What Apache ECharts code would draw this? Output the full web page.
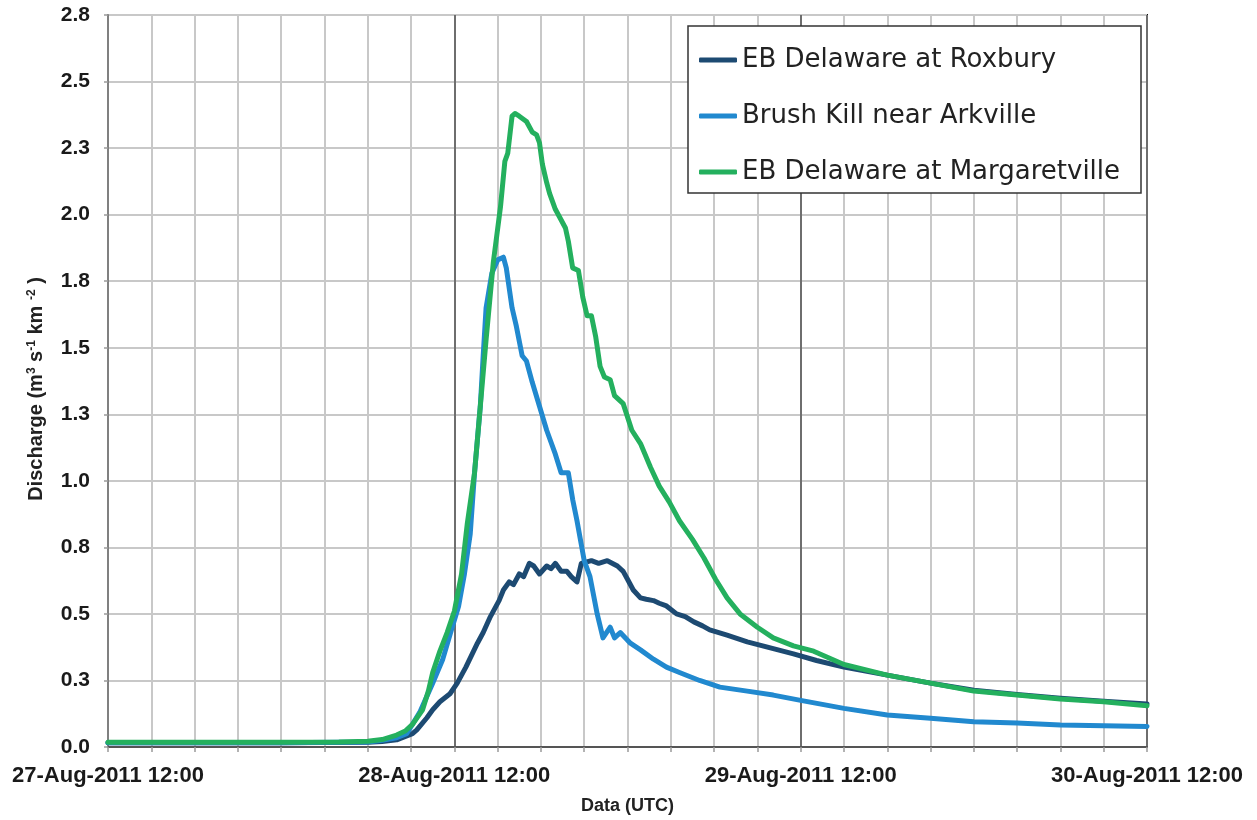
<!DOCTYPE html>
<html>
<head>
<meta charset="utf-8">
<title>Discharge, East Branch Delaware, 27–30 Aug 2011</title>
<script src="https://cdn.jsdelivr.net/npm/echarts@6/dist/echarts.min.js"></script>
<style>
  html, body { margin: 0; padding: 0; background: #ffffff; }
  #chart { width: 1257px; height: 820px; }
</style>
</head>
<body>
<div id="chart"></div>
<script>
// Hours since 27-Aug-2011 12:00 UTC, and specific discharge (m3 s-1 km-2)
const roxburyHours = [0, 6, 12, 18, 19, 20, 21.1, 21.4, 22.1, 22.5, 23.0, 23.7, 24.2, 24.8, 25.6, 26.0, 26.5, 27.1, 27.4, 27.8, 28.1, 28.5, 28.8, 29.2, 29.5, 29.9, 30.4, 30.7, 31.0, 31.4, 31.8, 32.1, 32.5, 32.8, 33.5, 34.0, 34.6, 35.3, 35.7, 36.0, 36.4, 36.9, 37.3, 37.8, 38.2, 38.7, 39.4, 40.0, 40.6, 41.2, 41.7, 42.9, 44.3, 45.7, 47.5, 49.1, 51, 54, 57, 60, 63, 66, 69, 72];
const roxburyQ     = [0.016, 0.016, 0.016, 0.018, 0.021, 0.027, 0.05, 0.064, 0.11, 0.14, 0.17, 0.20, 0.24, 0.30, 0.39, 0.43, 0.49, 0.55, 0.59, 0.62, 0.61, 0.65, 0.64, 0.69, 0.68, 0.65, 0.68, 0.67, 0.69, 0.66, 0.66, 0.64, 0.62, 0.69, 0.70, 0.69, 0.70, 0.68, 0.66, 0.63, 0.59, 0.56, 0.555, 0.55, 0.54, 0.53, 0.50, 0.49, 0.47, 0.455, 0.44, 0.42, 0.395, 0.375, 0.35, 0.325, 0.30, 0.27, 0.24, 0.213, 0.197, 0.183, 0.172, 0.162];

const brushKillHours = [0, 6, 12, 18, 19, 20, 20.7, 21.6, 22.5, 23.2, 23.8, 24.3, 24.7, 25.1, 25.4, 25.8, 26.0, 26.2, 26.6, 27.0, 27.4, 27.6, 28.0, 28.3, 28.7, 29.0, 29.4, 29.9, 30.4, 30.6, 31.0, 31.4, 31.9, 32.2, 32.5, 33.0, 33.4, 33.9, 34.3, 34.8, 35.1, 35.5, 36.2, 36.9, 37.8, 38.7, 39.6, 41.0, 42.4, 44.3, 46.1, 48, 51, 54, 57, 60, 63, 66, 69, 72];
const brushKillQ     = [0.016, 0.016, 0.016, 0.019, 0.025, 0.035, 0.05, 0.13, 0.24, 0.33, 0.44, 0.53, 0.65, 0.80, 1.03, 1.28, 1.47, 1.65, 1.78, 1.83, 1.84, 1.80, 1.65, 1.58, 1.47, 1.45, 1.37, 1.28, 1.19, 1.16, 1.10, 1.03, 1.03, 0.93, 0.85, 0.70, 0.64, 0.50, 0.41, 0.45, 0.41, 0.43, 0.39, 0.365, 0.33, 0.30, 0.28, 0.25, 0.225, 0.21, 0.195, 0.175, 0.145, 0.12, 0.108, 0.095, 0.09, 0.083, 0.08, 0.077];

const margaretvilleHours = [0, 6, 12, 16, 18, 19, 20, 20.6, 21.1, 21.8, 22.2, 22.5, 23.0, 23.5, 24.0, 24.5, 24.9, 25.4, 25.8, 26.2, 26.7, 27.2, 27.5, 27.7, 28.0, 28.2, 28.5, 29.0, 29.4, 29.7, 29.9, 30.1, 30.4, 30.6, 31.0, 31.3, 31.7, 31.9, 32.2, 32.6, 32.9, 33.2, 33.5, 33.8, 34.1, 34.4, 34.8, 35.1, 35.7, 36.3, 36.9, 37.6, 38.2, 38.9, 39.6, 40.5, 41.3, 42.1, 42.9, 43.8, 45.0, 46.1, 47.5, 48.9, 51, 54, 57, 60, 63, 66, 69, 72];
const margaretvilleQ     = [0.018, 0.018, 0.018, 0.019, 0.022, 0.028, 0.045, 0.06, 0.085, 0.14, 0.21, 0.28, 0.36, 0.43, 0.51, 0.65, 0.84, 1.03, 1.28, 1.53, 1.82, 2.03, 2.20, 2.23, 2.37, 2.38, 2.37, 2.35, 2.31, 2.30, 2.27, 2.19, 2.12, 2.08, 2.02, 1.99, 1.95, 1.90, 1.80, 1.79, 1.69, 1.62, 1.62, 1.54, 1.43, 1.39, 1.38, 1.32, 1.29, 1.19, 1.14, 1.05, 0.98, 0.92, 0.85, 0.78, 0.71, 0.63, 0.56, 0.50, 0.45, 0.41, 0.38, 0.36, 0.31, 0.27, 0.24, 0.21, 0.195, 0.18, 0.17, 0.155];

const seriesNames  = ['EB Delaware at Roxbury', 'Brush Kill near Arkville', 'EB Delaware at Margaretville'];
const seriesColors = ['#1d4a72', '#2189cf', '#24b05e'];

// One label per day on the time axis (every 24 h)
const dayLabels = ['27-Aug-2011 12:00', '28-Aug-2011 12:00', '29-Aug-2011 12:00', '30-Aug-2011 12:00'];

const zip = (xs, ys) => xs.map((x, i) => [x, ys[i]]);
const FONT = '"Liberation Sans", Arial, Helvetica, sans-serif';
const LEGEND_FONT = '"DejaVu Sans", "Liberation Sans", Arial, sans-serif';

const chart = echarts.init(document.getElementById('chart'), null, { renderer: 'canvas' });

const lineSeries = [
  zip(roxburyHours, roxburyQ),
  zip(brushKillHours, brushKillQ),
  zip(margaretvilleHours, margaretvilleQ)
].map((data, i) => ({
  name: seriesNames[i],
  type: 'line',
  data: data,
  symbol: 'none',
  smooth: false,
  z: 3 + i,
  lineStyle: { color: seriesColors[i], width: 5, cap: 'round', join: 'round' },
  itemStyle: { color: seriesColors[i] },
  emphasis: { disabled: true }
}));

// Every 3-hour grid line is light grey except the daily ones
const vGridColors = ['#6e6e6e', '#c8c8c8', '#c8c8c8', '#c8c8c8', '#c8c8c8', '#c8c8c8', '#c8c8c8', '#c8c8c8'];

chart.setOption({
  backgroundColor: '#ffffff',
  animation: false,
  textStyle: { fontFamily: FONT },
  grid: {
    left: 108, right: 110, top: 15, bottom: 73,
    show: true, borderColor: '#111111', borderWidth: 2, backgroundColor: 'transparent'
  },
  legend: {
    orient: 'vertical',
    left: 688, top: 26,
    padding: [21, 12, 8, 11],
    itemGap: 30,
    itemWidth: 38,
    itemHeight: 5,
    icon: 'roundRect',
    backgroundColor: '#ffffff',
    borderColor: '#333333',
    borderWidth: 1.5,
    borderRadius: 0,
    selectedMode: false,
    data: seriesNames,
    textStyle: {
      fontFamily: LEGEND_FONT, fontSize: 26, color: '#222222',
      width: 387, lineHeight: 26
    }
  },
  xAxis: {
    type: 'value',
    min: 0, max: 72, interval: 3,
    name: 'Data (UTC)',
    nameLocation: 'middle',
    nameGap: 50,
    nameTextStyle: { fontFamily: FONT, fontSize: 18, fontWeight: 'bold', color: '#222222' },
    axisLine: { show: true, onZero: false, lineStyle: { color: '#555555', width: 2 } },
    axisTick: { show: true, length: 5, lineStyle: { color: '#9a9a9a', width: 1.5 } },
    axisLabel: {
      margin: 18,
      fontFamily: FONT, fontSize: 22, fontWeight: 'bold', color: '#1a1a1a',
      showMinLabel: true, showMaxLabel: true, hideOverlap: false,
      formatter: v => (v % 24 === 0 ? dayLabels[v / 24] : '')
    },
    splitLine: { show: true, lineStyle: { color: vGridColors, width: 2 } }
  },
  yAxis: {
    type: 'value',
    min: 0, max: 2.75, interval: 0.25,
    name: 'Discharge (m{sup|3} s{sup|-1} km {sup|-2} )',
    nameLocation: 'middle',
    nameGap: 62,
    nameRotate: 90,
    nameTextStyle: {
      fontFamily: FONT, fontSize: 20, fontWeight: 'bold', color: '#222222',
      padding: [0, 16, 0, 0],
      rich: {
        sup: { fontFamily: FONT, fontSize: 12, fontWeight: 'bold', color: '#222222', verticalAlign: 'top', padding: [0, 0, 8, 0] }
      }
    },
    axisLine: { show: true, lineStyle: { color: '#808080', width: 2 } },
    axisTick: { show: true, length: 4, lineStyle: { color: '#9a9a9a', width: 1.5 } },
    axisLabel: {
      margin: 18,
      fontFamily: FONT, fontSize: 21, fontWeight: 'bold', color: '#1a1a1a',
      formatter: v => (Math.round(v * 10) / 10).toFixed(1)
    },
    splitLine: { show: true, lineStyle: { color: '#c8c8c8', width: 2 } }
  },
  series: lineSeries
});
</script>
</body>
</html>
